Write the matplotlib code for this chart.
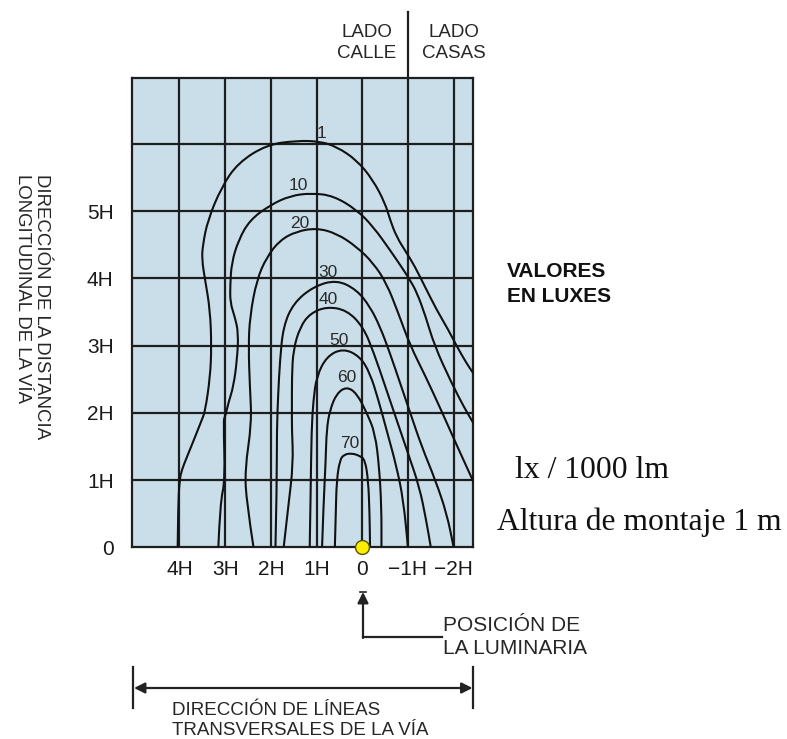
import matplotlib
matplotlib.use("Agg")
import matplotlib.pyplot as plt
from matplotlib.path import Path
from matplotlib.patches import PathPatch

plt.rcParams['font.family'] = ['Liberation Sans', 'DejaVu Sans']

# ---------------- data (H units) ----------------
x_ticks = [4, 3, 2, 1, 0, -1, -2]
x_tick_labels = ['4H', '3H', '2H', '1H', '0', '\u22121H', '\u22122H']
y_ticks = [0, 1, 2, 3, 4, 5]
y_tick_labels = ['0', '1H', '2H', '3H', '4H', '5H']
grid_x = [4, 3, 2, 1, 0, -1, -2]
grid_y = [1, 2, 3, 4, 5, 6]

c1_x = [4.04, 4.03, 4.00, 3.95, 3.84, 3.66, 3.51, 3.44, 3.33, 3.30, 3.33, 3.44, 3.51, 3.49, 3.38, 3.08, 2.72, 2.09, 1.44, 0.93, 0.56, 0.12, -0.23, -0.50, -0.61, -0.75, -0.97, -1.15, -1.37, -1.63, -1.88, -2.07, -2.28, -2.43]
c1_y = [0.00, 0.60, 1.00, 1.15, 1.34, 1.64, 1.90, 2.02, 2.53, 2.98, 3.53, 3.98, 4.28, 4.50, 4.87, 5.36, 5.72, 5.99, 6.05, 6.04, 5.96, 5.76, 5.47, 5.12, 4.87, 4.62, 4.38, 4.18, 3.88, 3.53, 3.24, 2.99, 2.74, 2.59]

c10_x = [3.15, 3.11, 3.00, 3.04, 3.00, 2.93, 2.82, 2.74, 2.71, 2.79, 2.89, 2.89, 2.86, 2.71, 2.46, 2.02, 1.58, 1.11, 0.63, 0.12, -0.24, -0.61, -0.90, -1.04, -1.19, -1.38, -1.58, -1.95, -2.23, -2.43]
c10_y = [0.00, 0.66, 1.00, 1.90, 1.94, 2.15, 2.39, 2.79, 3.19, 3.43, 3.64, 3.90, 4.23, 4.57, 4.87, 5.09, 5.23, 5.27, 5.23, 5.02, 4.77, 4.42, 4.13, 3.98, 3.80, 3.45, 3.00, 2.45, 2.08, 1.85]

c20_x = [2.38, 2.53, 2.57, 2.42, 2.46, 2.49, 2.46, 2.31, 2.09, 1.80, 1.44, 1.00, 0.56, 0.12, -0.24, -0.53, -0.78, -1.05, -1.38, -1.72, -2.08, -2.43]
c20_y = [0.00, 0.66, 1.15, 1.85, 2.39, 2.98, 3.43, 3.98, 4.32, 4.57, 4.70, 4.75, 4.67, 4.47, 4.23, 3.93, 3.50, 3.00, 2.55, 2.05, 1.50, 0.98]

c30_x = [1.90, 1.87, 1.87, 1.84, 1.80, 1.73, 1.51, 1.07, 0.56, 0.12, -0.17, -0.39, -0.60, -0.85, -1.05, -1.30, -1.60, -1.85, -2.00]
c30_y = [0.00, 0.90, 1.75, 2.29, 2.79, 3.28, 3.63, 3.88, 3.98, 3.83, 3.58, 3.28, 2.90, 2.40, 2.00, 1.50, 1.00, 0.50, 0.00]

c40_x = [1.72, 1.62, 1.51, 1.54, 1.54, 1.54, 1.51, 1.36, 1.14, 0.78, 0.34, -0.02, -0.25, -0.50, -0.75, -1.00, -1.25, -1.40, -1.50]
c40_y = [0.00, 0.60, 1.25, 1.75, 2.04, 2.54, 2.94, 3.28, 3.48, 3.58, 3.53, 3.28, 2.90, 2.40, 1.90, 1.40, 0.90, 0.40, 0.00]

c50_x = [1.15, 1.13, 1.11, 1.07, 1.00, 0.78, 0.42, 0.05, -0.17, -0.35, -0.55, -0.75, -0.90, -1.00]
c50_y = [0.00, 0.80, 1.75, 2.19, 2.54, 2.84, 2.96, 2.84, 2.59, 2.20, 1.70, 1.20, 0.70, 0.00]

c60_x = [0.88, 0.85, 0.80, 0.78, 0.71, 0.56, 0.34, 0.12, -0.10, -0.28, -0.37, -0.42, -0.42]
c60_y = [0.00, 0.60, 1.30, 1.75, 2.04, 2.29, 2.39, 2.29, 2.00, 1.70, 1.20, 0.60, 0.00]

c70_x = [0.60, 0.58, 0.56, 0.49, 0.40, 0.23, 0.05, -0.06, -0.13, -0.16, -0.17]
c70_y = [0.00, 0.50, 1.00, 1.30, 1.38, 1.40, 1.36, 1.30, 1.00, 0.50, 0.00]

contours = [(c1_x, c1_y), (c10_x, c10_y), (c20_x, c20_y), (c30_x, c30_y),
            (c40_x, c40_y), (c50_x, c50_y), (c60_x, c60_y), (c70_x, c70_y)]
contour_labels = ['1', '10', '20', '30', '40', '50', '60', '70']
label_x = [0.89, 1.40, 1.36, 0.74, 0.74, 0.50, 0.34, 0.27]
label_y = [6.16, 5.39, 4.82, 4.09, 3.68, 3.08, 2.53, 1.55]

luminaire_x = [0]
luminaire_y = [0]

# ---------------- figure ----------------
W, H = 787, 739
fig = plt.figure(figsize=(W / 100, H / 100), dpi=100)
fig.patch.set_facecolor('white')

def fx(px):
    return px / W

def fy(py):
    return 1 - py / H

ax = fig.add_axes([fx(131.7), fy(547.3), (473.3 - 131.7) / W, (547.3 - 77.5) / H])
ax.set_facecolor('#c9dee9')
ax.set_xlim(5.046, -2.43)
ax.set_ylim(0, 6.99)

for gx in grid_x:
    ax.axvline(gx, color='#1e1e1e', lw=1.6, zorder=1)
for gy in grid_y:
    ax.axhline(gy, color='#1e1e1e', lw=1.6, zorder=1)
for s in ax.spines.values():
    s.set_color('#1e1e1e')
    s.set_linewidth(1.6)


def smooth_path(xs, ys):
    """Quadratic-Bezier path using the read points as control points."""
    pts = list(zip(xs, ys))
    verts = [pts[0]]
    codes = [Path.MOVETO]
    for i in range(1, len(pts) - 1):
        mid = ((pts[i][0] + pts[i + 1][0]) / 2, (pts[i][1] + pts[i + 1][1]) / 2)
        verts += [pts[i], mid]
        codes += [Path.CURVE3, Path.CURVE3]
    verts.append(pts[-1])
    codes.append(Path.LINETO)
    return Path(verts, codes)


for cx, cy in contours:
    ax.add_patch(PathPatch(smooth_path(cx, cy), facecolor='none', edgecolor='#111111',
                           lw=1.5, zorder=3, joinstyle='round', capstyle='round'))

for t, lx, ly in zip(contour_labels, label_x, label_y):
    ax.text(lx, ly, t, fontsize=12.5, color='#2a2a2a', ha='center', va='center', zorder=4)

ax.plot(luminaire_x, luminaire_y, 'o', ms=10, mfc='#ffee00', mec='#555500', mew=1.0,
        clip_on=False, zorder=6)

ax.set_xticks(x_ticks)
ax.set_xticklabels(x_tick_labels)
ax.set_yticks(y_ticks)
ax.set_yticklabels(y_tick_labels)
ax.tick_params(axis='both', length=0, labelsize=15, colors='#1a1a1a')
ax.tick_params(axis='x', pad=9)
ax.tick_params(axis='y', pad=13)

# divider line between LADO CALLE / LADO CASAS (extension of -1H grid line)
ax.plot([-1, -1], [6.99, 7.96], color='#1e1e1e', lw=1.6, clip_on=False, zorder=2)

txt = '#262626'
fig.text(fx(367), fy(43), 'LADO\nCALLE', ha='center', va='center', fontsize=13.5,
         color=txt, linespacing=1.25)
fig.text(fx(454), fy(43), 'LADO\nCASAS', ha='center', va='center', fontsize=13.5,
         color=txt, linespacing=1.25)

fig.text(fx(32), fy(174), 'DIRECCIÓN DE LA DISTANCIA\nLONGITUDINAL DE LA VÍA',
         rotation=270, ha='center', va='top', multialignment='left', fontsize=13.4,
         color=txt, linespacing=1.1)

fig.text(fx(507), fy(284), 'VALORES\nEN LUXES', ha='left', va='center', fontsize=15,
         fontweight='bold', color='#111111', linespacing=1.45)

fig.text(fx(515), fy(478), 'lx / 1000 lm', ha='left', va='baseline', fontsize=22.8,
         family='Liberation Serif', color='#111111')
fig.text(fx(497), fy(530), 'Altura de montaje 1 m', ha='left', va='baseline', fontsize=22.8,
         family='Liberation Serif', color='#111111')

fig.text(fx(443), fy(637), 'POSICIÓN DE\nLA LUMINARIA', ha='left', va='center', fontsize=15,
         color=txt, linespacing=1.25)

# pointer arrow to luminaire position
fig.add_artist(plt.Line2D([fx(363), fx(442)], [fy(637), fy(637)], color='#222222', lw=1.6))
ax.annotate('', xy=(fx(363), fy(592)), xytext=(fx(363), fy(638)),
            xycoords='figure fraction', textcoords='figure fraction',
            arrowprops=dict(arrowstyle='-|>', color='#222222', lw=1.6, mutation_scale=16,
                            shrinkA=0, shrinkB=0))
fig.add_artist(plt.Line2D([fx(360), fx(366)], [fy(592), fy(592)], color='#222222', lw=1.2))

# dimension line
fig.add_artist(plt.Line2D([fx(133.3), fx(133.3)], [fy(667), fy(708)], color='#222222', lw=1.6))
fig.add_artist(plt.Line2D([fx(473.3), fx(473.3)], [fy(667), fy(708)], color='#222222', lw=1.6))
ax.annotate('', xy=(fx(134), fy(688)), xytext=(fx(472.5), fy(688)),
            xycoords='figure fraction', textcoords='figure fraction',
            arrowprops=dict(arrowstyle='<|-|>', color='#222222', lw=1.6, mutation_scale=16,
                            shrinkA=0, shrinkB=0))
fig.text(fx(171.7), fy(720.5), 'DIRECCIÓN DE LÍNEAS\nTRANSVERSALES DE LA VÍA', ha='left',
         va='center', fontsize=13.5, color=txt, linespacing=1.2)

fig.savefig('out.png', dpi=100, facecolor='white')
